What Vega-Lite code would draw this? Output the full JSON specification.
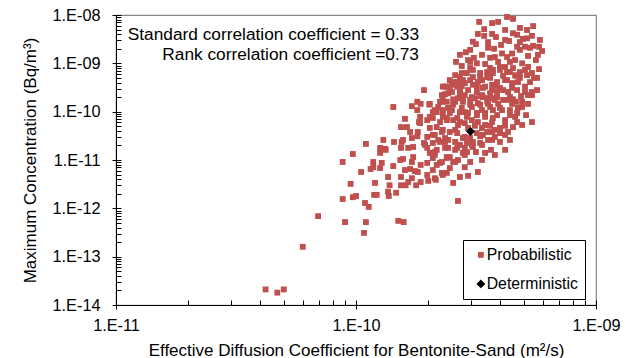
{
"$schema": "https://vega.github.io/schema/vega-lite/v6.json",
"width": 480, "height": 290,
"autosize": {"type": "none"},
"padding": {"left": 116, "top": 15, "right": 33, "bottom": 53},
"background": "white",
"config": {"view": {"stroke": "#888888", "strokeWidth": 1.2}, "font": "Liberation Sans", "text": {"font": "Liberation Sans"}},
"datasets": {"pts": [
{"x":4.2e-11,"y":2.1e-14,"s":"Probabilistic"},{"x":4.7e-11,"y":1.8e-14,"s":"Probabilistic"},{"x":5.0e-11,"y":2.1e-14,"s":"Probabilistic"},{"x":6.0e-11,"y":1.6e-13,"s":"Probabilistic"},{"x":6.95e-11,"y":6.9e-13,"s":"Probabilistic"},{"x":8.8e-11,"y":1.56e-12,"s":"Probabilistic"},{"x":9.0e-11,"y":5.2e-13,"s":"Probabilistic"},{"x":9.5e-11,"y":3.2e-12,"s":"Probabilistic"},{"x":9.7e-11,"y":1.7e-12,"s":"Probabilistic"},{"x":1.0e-10,"y":1.8e-12,"s":"Probabilistic"},
{"x":1.08e-10,"y":3.1e-13,"s":"Probabilistic"},{"x":1.09e-10,"y":1.29e-12,"s":"Probabilistic"},{"x":1.1e-10,"y":5.2e-13,"s":"Probabilistic"},{"x":1.13e-10,"y":1.07e-12,"s":"Probabilistic"},{"x":1.2e-10,"y":3.35e-12,"s":"Probabilistic"},{"x":1.19e-10,"y":1.9e-12,"s":"Probabilistic"},{"x":1.22e-10,"y":1.9e-12,"s":"Probabilistic"},{"x":1.36e-10,"y":2.2e-12,"s":"Probabilistic"},{"x":1.37e-10,"y":1.8e-12,"s":"Probabilistic"},{"x":1.38e-10,"y":3.0e-12,"s":"Probabilistic"},
{"x":1.47e-10,"y":2.1e-12,"s":"Probabilistic"},{"x":1.5e-10,"y":5.5e-13,"s":"Probabilistic"},{"x":1.58e-10,"y":5.2e-13,"s":"Probabilistic"},{"x":1.54e-10,"y":3.0e-12,"s":"Probabilistic"},{"x":1.61e-10,"y":3.0e-12,"s":"Probabilistic"},{"x":1.65e-10,"y":3.5e-12,"s":"Probabilistic"},{"x":1.78e-10,"y":3.0e-12,"s":"Probabilistic"},{"x":1.86e-10,"y":3.5e-12,"s":"Probabilistic"},{"x":2.0e-10,"y":3.7e-12,"s":"Probabilistic"},{"x":2.15e-10,"y":3.9e-12,"s":"Probabilistic"},
{"x":2.54e-10,"y":3.35e-12,"s":"Probabilistic"},{"x":2.66e-10,"y":1.42e-12,"s":"Probabilistic"},
{"x":1.43e-10,"y":1.25e-10,"s":"Probabilistic"},{"x":1.71e-10,"y":1.3e-10,"s":"Probabilistic"},{"x":1.8e-10,"y":1.6e-10,"s":"Probabilistic"},{"x":1.86e-10,"y":1.45e-10,"s":"Probabilistic"},{"x":2.02e-10,"y":1.4e-10,"s":"Probabilistic"},{"x":2.28e-10,"y":1.6e-10,"s":"Probabilistic"},{"x":1.6e-10,"y":7.1e-11,"s":"Probabilistic"},{"x":1.54e-10,"y":4.8e-11,"s":"Probabilistic"},
{"x":1.63e-10,"y":4.8e-11,"s":"Probabilistic"},{"x":1.85e-10,"y":7.8e-11,"s":"Probabilistic"},{"x":1.83e-10,"y":6.1e-11,"s":"Probabilistic"},{"x":1.81e-10,"y":3.8e-11,"s":"Probabilistic"},{"x":1.71e-10,"y":2.85e-11,"s":"Probabilistic"},{"x":1.3e-10,"y":2.6e-11,"s":"Probabilistic"},{"x":1.44e-10,"y":2.36e-11,"s":"Probabilistic"},{"x":1.55e-10,"y":2.36e-11,"s":"Probabilistic"},{"x":1.1e-10,"y":2.15e-11,"s":"Probabilistic"},{"x":1.32e-10,"y":1.7e-11,"s":"Probabilistic"},
{"x":1.26e-10,"y":1.4e-11,"s":"Probabilistic"},{"x":1.54e-10,"y":1.78e-11,"s":"Probabilistic"},{"x":9.7e-11,"y":1.33e-11,"s":"Probabilistic"},{"x":8.8e-11,"y":9.1e-12,"s":"Probabilistic"},{"x":1.18e-10,"y":9.1e-12,"s":"Probabilistic"},{"x":1.28e-10,"y":8.7e-12,"s":"Probabilistic"},{"x":1.57e-10,"y":1.05e-11,"s":"Probabilistic"},{"x":1.43e-10,"y":7.5e-12,"s":"Probabilistic"},{"x":1.15e-10,"y":6.5e-12,"s":"Probabilistic"},{"x":1.05e-10,"y":5.65e-12,"s":"Probabilistic"},
{"x":1.68e-10,"y":6.5e-12,"s":"Probabilistic"},{"x":1.36e-10,"y":4.45e-12,"s":"Probabilistic"},{"x":1.54e-10,"y":4.45e-12,"s":"Probabilistic"},{"x":1.71e-10,"y":4.2e-12,"s":"Probabilistic"},{"x":1.81e-10,"y":5.65e-12,"s":"Probabilistic"},{"x":1.86e-10,"y":7.9e-12,"s":"Probabilistic"},{"x":1.71e-10,"y":9.1e-12,"s":"Probabilistic"},{"x":1.73e-10,"y":1.15e-11,"s":"Probabilistic"},{"x":1.73e-10,"y":1.86e-11,"s":"Probabilistic"},{"x":1.92e-10,"y":2.25e-11,"s":"Probabilistic"},
{"x":1.98e-10,"y":1.78e-11,"s":"Probabilistic"},{"x":2.03e-10,"y":1.4e-11,"s":"Probabilistic"},{"x":2.13e-10,"y":1.46e-11,"s":"Probabilistic"},{"x":2.28e-10,"y":9.1e-12,"s":"Probabilistic"},{"x":2.09e-10,"y":6.2e-12,"s":"Probabilistic"},{"x":1.98e-10,"y":4.9e-12,"s":"Probabilistic"},{"x":2.3e-10,"y":4.9e-12,"s":"Probabilistic"},{"x":2.35e-10,"y":2.36e-11,"s":"Probabilistic"},{"x":2.09e-10,"y":3.3e-11,"s":"Probabilistic"},{"x":2.03e-10,"y":4.6e-11,"s":"Probabilistic"},
{"x":2.17e-10,"y":4.8e-11,"s":"Probabilistic"},{"x":2.3e-10,"y":4.2e-11,"s":"Probabilistic"},{"x":2.39e-10,"y":6.7e-11,"s":"Probabilistic"},{"x":2.17e-10,"y":9.8e-11,"s":"Probabilistic"},{"x":2.3e-10,"y":7.8e-11,"s":"Probabilistic"},{"x":2.42e-10,"y":1.2e-10,"s":"Probabilistic"},{"x":2.03e-10,"y":7.8e-11,"s":"Probabilistic"},{"x":2.09e-10,"y":9.8e-11,"s":"Probabilistic"},{"x":1.92e-10,"y":2.8e-10,"s":"Probabilistic"},{"x":2.35e-10,"y":3.3e-10,"s":"Probabilistic"},
{"x":2.42e-10,"y":2.4e-10,"s":"Probabilistic"},{"x":1.68e-10,"y":3.8e-11,"s":"Probabilistic"},{"x":1.65e-10,"y":1.78e-11,"s":"Probabilistic"},{"x":2.09e-10,"y":2.25e-11,"s":"Probabilistic"},{"x":2.17e-10,"y":1.62e-11,"s":"Probabilistic"},{"x":2.13e-10,"y":1.27e-11,"s":"Probabilistic"},{"x":2.39e-10,"y":1.15e-11,"s":"Probabilistic"},{"x":2.59e-10,"y":9.1e-12,"s":"Probabilistic"},{"x":2.24e-10,"y":8.7e-12,"s":"Probabilistic"},{"x":2.09e-10,"y":1.1e-11,"s":"Probabilistic"},
{"x":1.98e-10,"y":8.7e-12,"s":"Probabilistic"},{"x":1.53e-10,"y":1.0e-11,"s":"Probabilistic"},{"x":1.18e-10,"y":7.1e-12,"s":"Probabilistic"},{"x":1.26e-10,"y":6.8e-12,"s":"Probabilistic"},{"x":1.6e-10,"y":6.2e-12,"s":"Probabilistic"},{"x":2.39e-10,"y":5.4e-12,"s":"Probabilistic"},{"x":2.71e-10,"y":4.45e-12,"s":"Probabilistic"},{"x":2.93e-10,"y":4.7e-12,"s":"Probabilistic"},{"x":3.22e-10,"y":5.65e-12,"s":"Probabilistic"},{"x":3.65e-10,"y":1.62e-11,"s":"Probabilistic"},
{"x":3.98e-10,"y":3.6e-11,"s":"Probabilistic"},
{"x":2.3e-10,"y":1.9e-10,"s":"Probabilistic"},{"x":2.54e-10,"y":1.8e-10,"s":"Probabilistic"},{"x":2.79e-10,"y":1.9e-10,"s":"Probabilistic"},{"x":3.13e-10,"y":1.9e-10,"s":"Probabilistic"},{"x":3.38e-10,"y":2.0e-10,"s":"Probabilistic"},{"x":3.72e-10,"y":1.9e-10,"s":"Probabilistic"},{"x":4.1e-10,"y":1.75e-10,"s":"Probabilistic"},{"x":4.51e-10,"y":1.8e-10,"s":"Probabilistic"},{"x":4.92e-10,"y":1.6e-10,"s":"Probabilistic"},{"x":5.41e-10,"y":2.2e-10,"s":"Probabilistic"},
{"x":4.73e-10,"y":1.2e-10,"s":"Probabilistic"},{"x":4.38e-10,"y":1.08e-10,"s":"Probabilistic"},{"x":3.98e-10,"y":1.2e-10,"s":"Probabilistic"},{"x":3.62e-10,"y":1.25e-10,"s":"Probabilistic"},{"x":3.29e-10,"y":1.4e-10,"s":"Probabilistic"},{"x":3.04e-10,"y":1.25e-10,"s":"Probabilistic"},{"x":2.76e-10,"y":1.2e-10,"s":"Probabilistic"},{"x":2.51e-10,"y":1.08e-10,"s":"Probabilistic"},{"x":2.3e-10,"y":1.08e-10,"s":"Probabilistic"},{"x":2.39e-10,"y":7.4e-11,"s":"Probabilistic"},
{"x":2.64e-10,"y":7.4e-11,"s":"Probabilistic"},{"x":2.9e-10,"y":7.8e-11,"s":"Probabilistic"},{"x":3.19e-10,"y":8.5e-11,"s":"Probabilistic"},{"x":3.45e-10,"y":7.8e-11,"s":"Probabilistic"},{"x":3.72e-10,"y":7.4e-11,"s":"Probabilistic"},{"x":4.18e-10,"y":6.7e-11,"s":"Probabilistic"},{"x":4.6e-10,"y":7.8e-11,"s":"Probabilistic"},{"x":4.92e-10,"y":5.3e-11,"s":"Probabilistic"},{"x":5.41e-10,"y":6.1e-11,"s":"Probabilistic"},{"x":4.51e-10,"y":4.8e-11,"s":"Probabilistic"},
{"x":4.3e-10,"y":3.8e-11,"s":"Probabilistic"},{"x":3.98e-10,"y":4.6e-11,"s":"Probabilistic"},{"x":3.69e-10,"y":3.8e-11,"s":"Probabilistic"},{"x":3.35e-10,"y":4.6e-11,"s":"Probabilistic"},{"x":3.38e-10,"y":3.3e-11,"s":"Probabilistic"},{"x":3.55e-10,"y":2.6e-11,"s":"Probabilistic"},{"x":3.29e-10,"y":2.25e-11,"s":"Probabilistic"},{"x":3.04e-10,"y":2.05e-11,"s":"Probabilistic"},{"x":3.98e-10,"y":2.36e-11,"s":"Probabilistic"},{"x":4.18e-10,"y":3.3e-11,"s":"Probabilistic"},
{"x":2.79e-10,"y":2.85e-11,"s":"Probabilistic"},{"x":2.59e-10,"y":2.36e-11,"s":"Probabilistic"},{"x":2.35e-10,"y":2.85e-11,"s":"Probabilistic"},{"x":2.35e-10,"y":1.78e-11,"s":"Probabilistic"},{"x":2.59e-10,"y":1.62e-11,"s":"Probabilistic"},{"x":2.84e-10,"y":1.78e-11,"s":"Probabilistic"},{"x":3.07e-10,"y":1.86e-11,"s":"Probabilistic"},{"x":2.46e-10,"y":1.15e-11,"s":"Probabilistic"},{"x":2.84e-10,"y":1.27e-11,"s":"Probabilistic"},{"x":2.54e-10,"y":9.1e-12,"s":"Probabilistic"},
{"x":2.39e-10,"y":1.1e-11,"s":"Probabilistic"},{"x":2.28e-10,"y":5.4e-12,"s":"Probabilistic"},
{"x":3.19e-10,"y":3.6e-11,"s":"Probabilistic"},{"x":2.84e-10,"y":3.0e-11,"s":"Probabilistic"},{"x":2.64e-10,"y":3.6e-11,"s":"Probabilistic"},{"x":2.46e-10,"y":3.8e-11,"s":"Probabilistic"},{"x":2.28e-10,"y":3.8e-11,"s":"Probabilistic"},{"x":2.13e-10,"y":3.3e-11,"s":"Probabilistic"},{"x":1.98e-10,"y":3.0e-11,"s":"Probabilistic"},{"x":1.8e-10,"y":3.1e-11,"s":"Probabilistic"},
{"x":2.66e-10,"y":5.3e-11,"s":"Probabilistic"},{"x":2.84e-10,"y":5.8e-11,"s":"Probabilistic"},{"x":3.04e-10,"y":6.7e-11,"s":"Probabilistic"},{"x":3.22e-10,"y":6.1e-11,"s":"Probabilistic"},{"x":3.45e-10,"y":5.3e-11,"s":"Probabilistic"},{"x":3.69e-10,"y":6.1e-11,"s":"Probabilistic"},{"x":2.54e-10,"y":6.7e-11,"s":"Probabilistic"},{"x":2.24e-10,"y":6.1e-11,"s":"Probabilistic"},{"x":2.09e-10,"y":7.4e-11,"s":"Probabilistic"},{"x":1.98e-10,"y":6.7e-11,"s":"Probabilistic"},
{"x":2.9e-10,"y":2.25e-11,"s":"Probabilistic"},{"x":3.35e-10,"y":2.05e-11,"s":"Probabilistic"},{"x":2.79e-10,"y":1.4e-11,"s":"Probabilistic"},{"x":2.64e-10,"y":1.78e-11,"s":"Probabilistic"},{"x":2.42e-10,"y":2.6e-11,"s":"Probabilistic"},
{"x":4.26e-10,"y":9.1e-9,"s":"Probabilistic"},{"x":4.51e-10,"y":8.3e-9,"s":"Probabilistic"},{"x":3.26e-10,"y":7.2e-9,"s":"Probabilistic"},{"x":3.69e-10,"y":6.8e-9,"s":"Probabilistic"},{"x":3.91e-10,"y":7.2e-9,"s":"Probabilistic"},{"x":3.42e-10,"y":5.1e-9,"s":"Probabilistic"},{"x":4.82e-10,"y":5.4e-9,"s":"Probabilistic"},{"x":5.47e-10,"y":5.9e-9,"s":"Probabilistic"},{"x":3.22e-10,"y":4.05e-9,"s":"Probabilistic"},{"x":3.42e-10,"y":3.7e-9,"s":"Probabilistic"},
{"x":3.83e-10,"y":3.5e-9,"s":"Probabilistic"},{"x":4.51e-10,"y":4.2e-9,"s":"Probabilistic"},{"x":4.69e-10,"y":3.9e-9,"s":"Probabilistic"},{"x":4.96e-10,"y":3.2e-9,"s":"Probabilistic"},{"x":5.16e-10,"y":3.3e-9,"s":"Probabilistic"},{"x":5.41e-10,"y":3.7e-9,"s":"Probabilistic"},{"x":3.07e-10,"y":2.8e-9,"s":"Probabilistic"},{"x":4.34e-10,"y":2.9e-9,"s":"Probabilistic"},{"x":4.02e-10,"y":2.4e-9,"s":"Probabilistic"},{"x":3.76e-10,"y":2.0e-9,"s":"Probabilistic"},
{"x":4.69e-10,"y":2.2e-9,"s":"Probabilistic"},{"x":4.82e-10,"y":1.9e-9,"s":"Probabilistic"},{"x":5.06e-10,"y":2.2e-9,"s":"Probabilistic"},{"x":5.31e-10,"y":2.1e-9,"s":"Probabilistic"},{"x":5.47e-10,"y":2.3e-9,"s":"Probabilistic"},{"x":5.79e-10,"y":2.2e-9,"s":"Probabilistic"},{"x":5.96e-10,"y":1.8e-9,"s":"Probabilistic"},{"x":5.73e-10,"y":1.5e-9,"s":"Probabilistic"},{"x":5.62e-10,"y":1.17e-9,"s":"Probabilistic"},{"x":5.79e-10,"y":7.6e-10,"s":"Probabilistic"},
{"x":5.52e-10,"y":5.0e-10,"s":"Probabilistic"},{"x":5.68e-10,"y":5.0e-10,"s":"Probabilistic"},{"x":5.68e-10,"y":2.8e-10,"s":"Probabilistic"},{"x":5.41e-10,"y":2.55e-10,"s":"Probabilistic"},{"x":2.87e-10,"y":1.7e-9,"s":"Probabilistic"},{"x":2.61e-10,"y":1.07e-9,"s":"Probabilistic"},{"x":2.93e-10,"y":1.17e-9,"s":"Probabilistic"},{"x":3.19e-10,"y":1.0e-9,"s":"Probabilistic"},{"x":3.62e-10,"y":1.3e-9,"s":"Probabilistic"},{"x":4.06e-10,"y":1.6e-9,"s":"Probabilistic"},
{"x":4.26e-10,"y":1.35e-9,"s":"Probabilistic"},{"x":4.47e-10,"y":1.6e-9,"s":"Probabilistic"},{"x":4.6e-10,"y":1.17e-9,"s":"Probabilistic"},{"x":4.92e-10,"y":1.0e-9,"s":"Probabilistic"},{"x":5.21e-10,"y":8.4e-10,"s":"Probabilistic"},{"x":5.41e-10,"y":6.3e-10,"s":"Probabilistic"},{"x":5.16e-10,"y":5.7e-10,"s":"Probabilistic"},{"x":4.82e-10,"y":6.6e-10,"s":"Probabilistic"},{"x":4.51e-10,"y":8.0e-10,"s":"Probabilistic"},{"x":4.26e-10,"y":6.6e-10,"s":"Probabilistic"},
{"x":3.98e-10,"y":8.4e-10,"s":"Probabilistic"},{"x":3.72e-10,"y":7.3e-10,"s":"Probabilistic"},{"x":3.52e-10,"y":6.6e-10,"s":"Probabilistic"},{"x":3.29e-10,"y":6.3e-10,"s":"Probabilistic"},{"x":3.07e-10,"y":5.2e-10,"s":"Probabilistic"},{"x":2.9e-10,"y":6.3e-10,"s":"Probabilistic"},{"x":2.71e-10,"y":5.2e-10,"s":"Probabilistic"},{"x":2.54e-10,"y":4.1e-10,"s":"Probabilistic"},{"x":2.39e-10,"y":3.3e-10,"s":"Probabilistic"},{"x":2.64e-10,"y":3.3e-10,"s":"Probabilistic"},
{"x":2.84e-10,"y":3.9e-10,"s":"Probabilistic"},{"x":3.07e-10,"y":3.6e-10,"s":"Probabilistic"},{"x":3.35e-10,"y":4.5e-10,"s":"Probabilistic"},{"x":3.62e-10,"y":5.0e-10,"s":"Probabilistic"},{"x":3.87e-10,"y":4.1e-10,"s":"Probabilistic"},{"x":4.18e-10,"y":4.5e-10,"s":"Probabilistic"},{"x":4.47e-10,"y":3.9e-10,"s":"Probabilistic"},{"x":4.73e-10,"y":4.1e-10,"s":"Probabilistic"},{"x":5.06e-10,"y":3.3e-10,"s":"Probabilistic"},{"x":4.69e-10,"y":2.8e-10,"s":"Probabilistic"},
{"x":4.3e-10,"y":2.55e-10,"s":"Probabilistic"},{"x":3.98e-10,"y":3.1e-10,"s":"Probabilistic"},{"x":3.69e-10,"y":2.8e-10,"s":"Probabilistic"},{"x":3.38e-10,"y":3.1e-10,"s":"Probabilistic"},{"x":3.19e-10,"y":2.55e-10,"s":"Probabilistic"},{"x":2.93e-10,"y":2.8e-10,"s":"Probabilistic"},{"x":2.71e-10,"y":2.4e-10,"s":"Probabilistic"},{"x":2.51e-10,"y":2.55e-10,"s":"Probabilistic"},{"x":5.21e-10,"y":2.2e-10,"s":"Probabilistic"},{"x":4.87e-10,"y":2.1e-10,"s":"Probabilistic"},
{"x":4.38e-10,"y":2.0e-10,"s":"Probabilistic"},{"x":3.87e-10,"y":2.0e-10,"s":"Probabilistic"},{"x":3.52e-10,"y":1.9e-10,"s":"Probabilistic"},{"x":3.29e-10,"y":2.1e-10,"s":"Probabilistic"},{"x":3.04e-10,"y":2.0e-10,"s":"Probabilistic"},
{"x":2.99e-10,"y":1.07e-9,"s":"Probabilistic"},{"x":3.07e-10,"y":7.3e-10,"s":"Probabilistic"},{"x":2.76e-10,"y":6.3e-10,"s":"Probabilistic"},{"x":2.64e-10,"y":4.1e-10,"s":"Probabilistic"},{"x":2.79e-10,"y":4.5e-10,"s":"Probabilistic"},{"x":2.99e-10,"y":4.5e-10,"s":"Probabilistic"},{"x":3.29e-10,"y":5.2e-10,"s":"Probabilistic"},{"x":3.52e-10,"y":5.2e-10,"s":"Probabilistic"},{"x":3.72e-10,"y":6.3e-10,"s":"Probabilistic"},{"x":3.98e-10,"y":7.3e-10,"s":"Probabilistic"},
{"x":4.18e-10,"y":8.4e-10,"s":"Probabilistic"},{"x":4.38e-10,"y":6.6e-10,"s":"Probabilistic"},{"x":4.6e-10,"y":5.7e-10,"s":"Probabilistic"},{"x":4.82e-10,"y":5.0e-10,"s":"Probabilistic"},{"x":4.26e-10,"y":4.5e-10,"s":"Probabilistic"},{"x":3.69e-10,"y":3.6e-10,"s":"Probabilistic"},{"x":3.45e-10,"y":3.3e-10,"s":"Probabilistic"},{"x":3.19e-10,"y":3.3e-10,"s":"Probabilistic"},{"x":2.71e-10,"y":2.8e-10,"s":"Probabilistic"},{"x":2.51e-10,"y":3.6e-10,"s":"Probabilistic"},
{"x":2.3e-10,"y":3.3e-10,"s":"Probabilistic"},{"x":2.84e-10,"y":2.2e-10,"s":"Probabilistic"},{"x":3.35e-10,"y":2.2e-10,"s":"Probabilistic"},{"x":3.62e-10,"y":2.4e-10,"s":"Probabilistic"},{"x":3.87e-10,"y":2.55e-10,"s":"Probabilistic"},{"x":4.1e-10,"y":2.8e-10,"s":"Probabilistic"},{"x":4.64e-10,"y":1.6e-10,"s":"Probabilistic"},{"x":4.3e-10,"y":1.75e-10,"s":"Probabilistic"},{"x":3.79e-10,"y":1.75e-10,"s":"Probabilistic"},{"x":3.52e-10,"y":1.6e-10,"s":"Probabilistic"},
{"x":3.22e-10,"y":1.5e-10,"s":"Probabilistic"},{"x":2.99e-10,"y":1.4e-10,"s":"Probabilistic"},{"x":2.79e-10,"y":1.6e-10,"s":"Probabilistic"},{"x":2.59e-10,"y":1.6e-10,"s":"Probabilistic"},{"x":2.39e-10,"y":1.6e-10,"s":"Probabilistic"},{"x":2.24e-10,"y":1.6e-10,"s":"Probabilistic"},{"x":2.28e-10,"y":2.2e-10,"s":"Probabilistic"},{"x":2.03e-10,"y":1.45e-10,"s":"Probabilistic"},{"x":2.13e-10,"y":1.08e-10,"s":"Probabilistic"},{"x":2.3e-10,"y":9.4e-11,"s":"Probabilistic"},
{"x":2.71e-10,"y":9.8e-11,"s":"Probabilistic"},{"x":2.93e-10,"y":9.4e-11,"s":"Probabilistic"},{"x":3.19e-10,"y":9.4e-11,"s":"Probabilistic"},{"x":3.45e-10,"y":9.4e-11,"s":"Probabilistic"},{"x":3.72e-10,"y":1.08e-10,"s":"Probabilistic"},{"x":4.06e-10,"y":1.08e-10,"s":"Probabilistic"},{"x":4.69e-10,"y":9.4e-11,"s":"Probabilistic"},{"x":4.92e-10,"y":1.25e-10,"s":"Probabilistic"},{"x":1.8e-10,"y":1.08e-10,"s":"Probabilistic"},{"x":1.85e-10,"y":5.8e-11,"s":"Probabilistic"},
{"x":3.79e-10,"y":4.2e-11,"s":"Probabilistic"},{"x":3.52e-10,"y":3.8e-11,"s":"Probabilistic"},{"x":2.93e-10,"y":4.6e-11,"s":"Probabilistic"},{"x":1.57e-10,"y":2.6e-11,"s":"Probabilistic"},{"x":1.26e-10,"y":1.78e-11,"s":"Probabilistic"},{"x":1.33e-10,"y":1.62e-11,"s":"Probabilistic"},{"x":1.94e-10,"y":2.05e-11,"s":"Probabilistic"},{"x":2.24e-10,"y":2.36e-11,"s":"Probabilistic"},{"x":3.07e-10,"y":2.36e-11,"s":"Probabilistic"},{"x":3.69e-10,"y":2.6e-11,"s":"Probabilistic"},
{"x":2.9e-10,"y":1.46e-11,"s":"Probabilistic"},{"x":1.76e-10,"y":5.9e-12,"s":"Probabilistic"},{"x":2.13e-10,"y":4.2e-12,"s":"Probabilistic"},
{"x":3.16e-10,"y":2.5e-9,"s":"Probabilistic"},{"x":3.55e-10,"y":2.75e-9,"s":"Probabilistic"},{"x":4.18e-10,"y":3.05e-9,"s":"Probabilistic"},{"x":4.82e-10,"y":2.75e-9,"s":"Probabilistic"},{"x":5.21e-10,"y":1.42e-9,"s":"Probabilistic"},{"x":3.79e-10,"y":1.35e-9,"s":"Probabilistic"},{"x":3.35e-10,"y":1.5e-9,"s":"Probabilistic"},{"x":3.1e-10,"y":1.3e-9,"s":"Probabilistic"},{"x":2.76e-10,"y":8.8e-10,"s":"Probabilistic"},{"x":3.45e-10,"y":9.7e-10,"s":"Probabilistic"},
{"x":3.91e-10,"y":1.07e-9,"s":"Probabilistic"},{"x":4.38e-10,"y":1.07e-9,"s":"Probabilistic"},{"x":5.06e-10,"y":7.3e-10,"s":"Probabilistic"},{"x":2.59e-10,"y":5.7e-10,"s":"Probabilistic"},{"x":2.99e-10,"y":8.0e-10,"s":"Probabilistic"},{"x":3.62e-10,"y":8.0e-10,"s":"Probabilistic"},{"x":4.1e-10,"y":5.5e-10,"s":"Probabilistic"},{"x":4.64e-10,"y":5.5e-10,"s":"Probabilistic"},{"x":5.31e-10,"y":4.1e-10,"s":"Probabilistic"},{"x":2.46e-10,"y":4.5e-10,"s":"Probabilistic"},
{"x":2.76e-10,"y":3.4e-10,"s":"Probabilistic"},{"x":3.22e-10,"y":4.1e-10,"s":"Probabilistic"},{"x":3.79e-10,"y":3.4e-10,"s":"Probabilistic"},{"x":4.47e-10,"y":3.1e-10,"s":"Probabilistic"},{"x":5.06e-10,"y":2.55e-10,"s":"Probabilistic"},{"x":2.35e-10,"y":2.3e-10,"s":"Probabilistic"},{"x":2.66e-10,"y":1.9e-10,"s":"Probabilistic"},{"x":2.99e-10,"y":1.75e-10,"s":"Probabilistic"},{"x":3.55e-10,"y":1.45e-10,"s":"Probabilistic"},{"x":3.91e-10,"y":1.45e-10,"s":"Probabilistic"},
{"x":4.47e-10,"y":1.45e-10,"s":"Probabilistic"},{"x":5.21e-10,"y":1.45e-10,"s":"Probabilistic"},{"x":2.54e-10,"y":1.4e-10,"s":"Probabilistic"},{"x":2.2e-10,"y":1.25e-10,"s":"Probabilistic"},{"x":2.84e-10,"y":9.8e-11,"s":"Probabilistic"},{"x":3.35e-10,"y":1.08e-10,"s":"Probabilistic"},{"x":3.87e-10,"y":8.5e-11,"s":"Probabilistic"},{"x":4.38e-10,"y":8.5e-11,"s":"Probabilistic"},{"x":5.11e-10,"y":8.5e-11,"s":"Probabilistic"},{"x":2.46e-10,"y":9.4e-11,"s":"Probabilistic"},
{"x":2.71e-10,"y":6.1e-11,"s":"Probabilistic"},{"x":3.13e-10,"y":5.1e-11,"s":"Probabilistic"},{"x":3.62e-10,"y":5.1e-11,"s":"Probabilistic"},{"x":4.18e-10,"y":5.1e-11,"s":"Probabilistic"},{"x":4.69e-10,"y":6.1e-11,"s":"Probabilistic"},{"x":2.59e-10,"y":4.2e-11,"s":"Probabilistic"},{"x":2.99e-10,"y":2.85e-11,"s":"Probabilistic"},{"x":3.29e-10,"y":3.1e-11,"s":"Probabilistic"},{"x":3.79e-10,"y":3.0e-11,"s":"Probabilistic"},{"x":4.38e-10,"y":2.6e-11,"s":"Probabilistic"},
{"x":2.42e-10,"y":1.78e-11,"s":"Probabilistic"},{"x":2.71e-10,"y":2.05e-11,"s":"Probabilistic"},{"x":3.16e-10,"y":1.46e-11,"s":"Probabilistic"},{"x":3.45e-10,"y":1.4e-11,"s":"Probabilistic"},{"x":2.66e-10,"y":1.0e-11,"s":"Probabilistic"},{"x":2.99e-10,"y":9.1e-12,"s":"Probabilistic"},{"x":3.35e-10,"y":1.0e-11,"s":"Probabilistic"},{"x":3.79e-10,"y":1.27e-11,"s":"Probabilistic"},{"x":4.18e-10,"y":1.62e-11,"s":"Probabilistic"},{"x":2.17e-10,"y":7.9e-12,"s":"Probabilistic"},
{"x":2.46e-10,"y":6.8e-12,"s":"Probabilistic"},{"x":2.84e-10,"y":7.1e-12,"s":"Probabilistic"},{"x":2.2e-10,"y":2.6e-11,"s":"Probabilistic"},{"x":2.46e-10,"y":3.1e-10,"s":"Probabilistic"},{"x":2.99e-10,"y":1.9e-9,"s":"Probabilistic"},{"x":3.55e-10,"y":2.1e-9,"s":"Probabilistic"},{"x":2.71e-10,"y":1.5e-9,"s":"Probabilistic"},{"x":4.18e-10,"y":4.9e-9,"s":"Probabilistic"},{"x":3.69e-10,"y":4.05e-9,"s":"Probabilistic"},{"x":5.16e-10,"y":4.9e-9,"s":"Probabilistic"},
{"x":5.84e-10,"y":3.05e-9,"s":"Probabilistic"},
{"x":3.0e-10,"y":3.9e-11,"s":"Deterministic"}
]},
"layer": [
{"data": {"name": "pts"},
 "mark": {"type": "point", "filled": true, "opacity": 1, "strokeWidth": 0},
 "encoding": {
  "x": {"field": "x", "type": "quantitative",
   "scale": {"type": "log", "domain": [1e-11, 1e-9], "nice": false},
   "axis": {"orient": "bottom", "values": [1e-11, 1e-10, 1e-9], "grid": false, "tickSize": 4, "tickColor": "#000000", "domainColor": "#000000", "labelPadding": 8, "labelFlush": false, "labelOverlap": false, "labelFontSize": 16.3, "labelColor": "#000000", "labelFont": "Liberation Sans",
    "labelExpr": "'1.E-' + format(-round(log(datum.value)/LN10), '02d')",
    "title": "Effective Diffusion Coefficient for Bentonite-Sand (m²/s)", "titleFontSize": 17, "titleFontWeight": "normal", "titleColor": "#000000", "titleFont": "Liberation Sans", "titleY": 50, "titleBaseline": "alphabetic"}},
  "y": {"field": "y", "type": "quantitative",
   "scale": {"type": "log", "domain": [1e-14, 1e-8], "nice": false},
   "axis": {"orient": "left", "values": [1e-14, 1e-13, 1e-12, 1e-11, 1e-10, 1e-9, 1e-8], "grid": false, "tickSize": 4, "tickColor": "#000000", "domainColor": "#000000", "labelPadding": 12, "labelFlush": false, "labelOverlap": false, "labelFontSize": 16.3, "labelColor": "#000000", "labelFont": "Liberation Sans",
    "labelExpr": "'1.E-' + format(-round(log(datum.value)/LN10), '02d')",
    "title": "Maximum Concentration (Bq/m³)", "titleFontSize": 17, "titleFontWeight": "normal", "titleColor": "#000000", "titleFont": "Liberation Sans", "titleX": -86, "titleY": 145, "titleBaseline": "middle"}},
  "color": {"field": "s", "type": "nominal", "scale": {"domain": ["Probabilistic", "Deterministic"], "range": ["#C0504D", "#000000"]},
   "legend": {"title": null, "orient": "none", "legendX": 347, "legendY": 225, "strokeColor": "#000000", "fillColor": "#ffffff", "padding": 7, "rowPadding": 12, "labelFontSize": 15.75, "labelFont": "Liberation Sans", "labelColor": "#000000", "labelOffset": -2, "symbolOffset": 3, "symbolStrokeWidth": 0, "labelExpr": "datum.label + '   '"}},
  "shape": {"field": "s", "type": "nominal", "scale": {"domain": ["Probabilistic", "Deterministic"], "range": ["square", "diamond"]},
   "legend": {"title": null, "orient": "none", "legendX": 347, "legendY": 225, "strokeColor": "#000000", "fillColor": "#ffffff", "padding": 7, "rowPadding": 12, "labelFontSize": 15.75, "labelFont": "Liberation Sans", "labelColor": "#000000", "labelOffset": -2, "symbolOffset": 3, "symbolStrokeWidth": 0, "labelExpr": "datum.label + '   '"}},
  "size": {"field": "s", "type": "nominal", "scale": {"domain": ["Probabilistic", "Deterministic"], "range": [34, 80]},
   "legend": {"title": null, "orient": "none", "legendX": 347, "legendY": 225, "strokeColor": "#000000", "fillColor": "#ffffff", "padding": 7, "rowPadding": 12, "labelFontSize": 15.75, "labelFont": "Liberation Sans", "labelColor": "#000000", "labelOffset": -2, "symbolOffset": 3, "symbolStrokeWidth": 0, "labelExpr": "datum.label + '   '"}}
 }},
{"data": {"values": [{}]},
 "mark": {"type": "text", "align": "right", "baseline": "alphabetic", "fontSize": 17.3, "font": "Liberation Sans", "color": "#000000"},
 "encoding": {
  "x": {"datum": 1.83e-10, "type": "quantitative",
   "axis": {"orient": "bottom", "values": [1e-11, 2e-11, 3e-11, 4e-11, 5e-11, 6e-11, 7e-11, 8e-11, 9e-11, 1e-10, 2e-10, 3e-10, 4e-10, 5e-10, 6e-10, 7e-10, 8e-10, 9e-10, 1e-9], "labels": false, "domain": false, "grid": false, "title": null, "tickSize": -5, "tickColor": "#000000"}},
  "y": {"datum": 3.0e-9, "type": "quantitative",
   "axis": {"orient": "left", "values": [1e-14, 2e-14, 3e-14, 4e-14, 5e-14, 6e-14, 7e-14, 8e-14, 9e-14, 1e-13, 2e-13, 3e-13, 4e-13, 5e-13, 6e-13, 7e-13, 8e-13, 9e-13, 1e-12, 2e-12, 3e-12, 4e-12, 5e-12, 6e-12, 7e-12, 8e-12, 9e-12, 1e-11, 2e-11, 3e-11, 4e-11, 5e-11, 6e-11, 7e-11, 8e-11, 9e-11, 1e-10, 2e-10, 3e-10, 4e-10, 5e-10, 6e-10, 7e-10, 8e-10, 9e-10, 1e-9, 2e-9, 3e-9, 4e-9, 5e-9, 6e-9, 7e-9, 8e-9, 9e-9, 1e-8], "labels": false, "domain": false, "grid": false, "title": null, "tickSize": -5, "tickColor": "#000000"}},
  "text": {"value": "Standard correlation coefficient = 0.33"}
 }},
{"data": {"values": [{}]},
 "mark": {"type": "text", "align": "right", "baseline": "alphabetic", "fontSize": 17.3, "font": "Liberation Sans", "color": "#000000"},
 "encoding": {
  "x": {"datum": 1.83e-10, "type": "quantitative", "axis": null},
  "y": {"datum": 1.2e-9, "type": "quantitative", "axis": null},
  "text": {"value": "Rank correlation coefficient =0.73"}
 }}
],
"resolve": {"axis": {"x": "independent", "y": "independent"}}
}
